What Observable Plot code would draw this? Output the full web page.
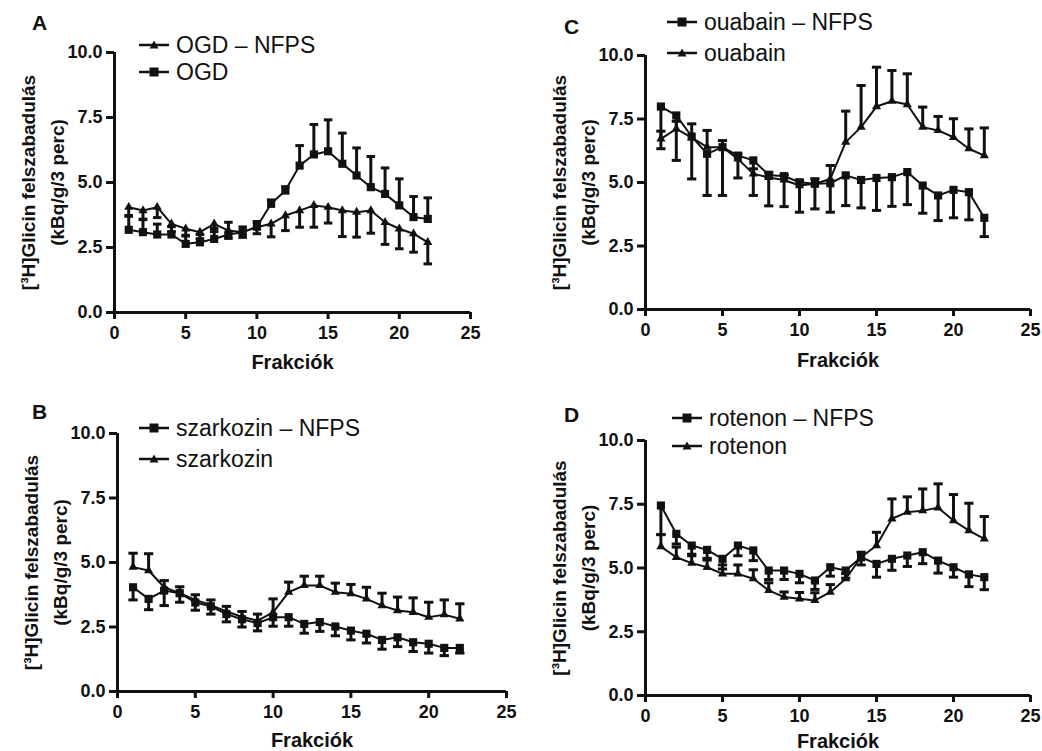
<!DOCTYPE html>
<html><head><meta charset="utf-8">
<script src="https://cdn.jsdelivr.net/npm/d3@7"></script>
<script src="https://cdn.jsdelivr.net/npm/@observablehq/plot@0.6"></script>
<style>
body{margin:0;background:#fff;}
#root{position:relative;width:1042px;height:751px;overflow:hidden;font-family:"Liberation Sans",Arial,sans-serif;color:#111;}
.panel{position:absolute;}
.letter{position:absolute;font-weight:bold;font-size:21px;line-height:1;}
.leg{position:absolute;display:flex;align-items:center;height:26px;font-size:23px;line-height:1;white-space:nowrap;}
.leg svg{margin-right:7px;}
</style></head><body><div id="root"></div>
<script>
// ---- data ----
const fractions = [1,2,3,4,5,6,7,8,9,10,11,12,13,14,15,16,17,18,19,20,21,22];
const xTicks = [0,5,10,15,20,25];
const yTicks = [0,2.5,5,7.5,10];
const xLabel = "Frakciók";
const yLabel1 = "[³H]Glicin felszabadulás";
const yLabel2 = "(kBq/g/3 perc)";

// Panel A
const ogdNfpsMean = [4.05,3.92,4.05,3.41,3.22,3.09,3.41,3.15,3.09,3.28,3.41,3.73,3.92,4.12,4.05,3.92,3.86,3.92,3.47,3.22,3.03,2.70];
const ogdNfpsSem  = [0.35,0.35,0.40,0.30,0.25,0.25,0.30,0.30,0.20,0.25,0.50,0.58,0.64,0.84,0.61,1.00,0.96,0.87,0.85,0.77,0.71,0.83];
const ogdMean     = [3.18,3.09,3.00,3.00,2.64,2.70,2.83,3.00,3.09,3.30,4.18,4.69,5.65,6.08,6.20,5.72,5.27,4.82,4.56,4.12,3.67,3.60];
const ogdSem      = [0.55,0.50,0.40,0.30,0.30,0.30,0.40,0.47,0.20,0.20,0.15,0.15,0.77,1.15,1.21,1.18,1.06,1.18,1.00,1.02,0.79,0.81];

// Panel C
const ouaNfpsMean = [7.99,7.64,6.81,6.13,6.39,6.06,5.87,5.30,5.25,5.01,4.95,4.97,5.28,5.10,5.18,5.21,5.41,4.88,4.49,4.71,4.62,3.61];
const ouaNfpsSem  = [1.66,1.77,1.67,1.64,1.90,0.88,1.38,1.22,1.20,1.18,0.99,1.14,1.19,1.10,1.28,1.15,1.28,1.09,0.99,1.10,1.09,0.74];
const ouaMean     = [6.72,7.11,6.77,6.39,6.39,5.93,5.34,5.20,5.10,4.88,4.95,5.14,6.59,7.18,7.99,8.20,8.07,7.18,7.05,6.78,6.33,6.06];
const ouaSem      = [0.30,0.30,0.54,0.66,0.26,0.20,0.20,0.20,0.20,0.20,0.20,0.53,1.22,1.64,1.55,1.21,1.21,0.79,0.55,0.73,0.78,1.09];

// Panel B
const szNfpsMean  = [4.04,3.59,3.91,3.81,3.45,3.30,3.00,2.80,2.65,2.88,2.88,2.62,2.69,2.52,2.36,2.24,2.00,2.10,1.91,1.85,1.69,1.69];
const szNfpsSem   = [0.49,0.42,0.58,0.35,0.30,0.30,0.30,0.30,0.30,0.35,0.35,0.36,0.36,0.36,0.36,0.36,0.36,0.36,0.36,0.36,0.30,0.20];
const szMean      = [4.82,4.69,4.04,3.81,3.55,3.35,3.10,2.90,2.75,3.07,3.85,4.11,4.11,3.85,3.79,3.59,3.33,3.14,3.07,2.88,2.98,2.82];
const szSem       = [0.54,0.65,0.26,0.25,0.20,0.20,0.20,0.20,0.25,0.52,0.39,0.36,0.36,0.35,0.36,0.45,0.48,0.52,0.56,0.58,0.57,0.58];

// Panel D
const rotNfpsMean = [7.45,6.34,5.88,5.71,5.36,5.88,5.69,4.90,4.90,4.77,4.51,5.03,4.90,5.42,5.16,5.36,5.49,5.62,5.29,5.03,4.75,4.64];
const rotNfpsSem  = [1.14,0.40,0.40,0.40,0.40,0.40,0.40,0.35,0.35,0.35,0.35,0.35,0.30,0.30,0.52,0.45,0.43,0.45,0.49,0.39,0.48,0.49];
const rotMean     = [5.84,5.42,5.19,5.03,4.77,4.77,4.58,4.12,3.86,3.79,3.73,4.05,4.58,5.42,5.88,6.93,7.19,7.25,7.36,6.86,6.47,6.14];
const rotSem      = [0.47,0.40,0.35,0.35,0.35,0.35,0.35,0.30,0.20,0.25,0.30,0.30,0.20,0.20,0.52,0.78,0.60,0.85,0.94,1.02,1.07,0.88];

// ---- layout ----
const panels = [
  {letter:"A", lx:32, ly:12, left:0, top:0, width:500, height:380, mt:52, mb:68, ml:114, mr:30, xdy:50,
   legend:{x:139, y:[45,72]},
   series:[
     {name:"OGD – NFPS", mean:ogdNfpsMean, sem:ogdNfpsSem, dir:-1, symbol:"triangle"},
     {name:"OGD", mean:ogdMean, sem:ogdSem, dir:1, symbol:"square"}]},
  {letter:"C", lx:564, ly:16, left:530, top:0, width:512, height:380, mt:55, mb:71, ml:115, mr:12, xdy:51,
   legend:{x:667, y:[22,53]},
   series:[
     {name:"ouabain – NFPS", mean:ouaNfpsMean, sem:ouaNfpsSem, dir:-1, symbol:"square"},
     {name:"ouabain", mean:ouaMean, sem:ouaSem, dir:1, symbol:"triangle"}]},
  {letter:"B", lx:32, ly:401, left:0, top:380, width:520, height:371, mt:53, mb:60, ml:117, mr:14, xdy:49,
   legend:{x:139, y:[428,459]},
   series:[
     {name:"szarkozin – NFPS", mean:szNfpsMean, sem:szNfpsSem, dir:-1, symbol:"square"},
     {name:"szarkozin", mean:szMean, sem:szSem, dir:1, symbol:"triangle"}]},
  {letter:"D", lx:564, ly:404, left:530, top:380, width:512, height:371, mt:60, mb:56, ml:115, mr:12, xdy:46,
   legend:{x:672, y:[418,446]},
   series:[
     {name:"rotenon – NFPS", mean:rotNfpsMean, sem:rotNfpsSem, dir:-1, symbol:"square"},
     {name:"rotenon", mean:rotMean, sem:rotSem, dir:1, symbol:"triangle"}]}
];

const root = document.getElementById("root");
const INK = "#111";

function swatch(symbol){
  const m = symbol === "square"
    ? `<rect x="10.5" y="2.5" width="9" height="9" fill="${INK}"/>`
    : `<polygon points="15,2.5 19.5,10.5 10.5,10.5" fill="${INK}"/>`;
  return `<svg width="30" height="14" viewBox="0 0 30 14"><line x1="0" y1="7" x2="30" y2="7" stroke="${INK}" stroke-width="2.5"/>${m}</svg>`;
}

for (const p of panels) {
  const marks = [];
  const rowsets = p.series.map(s => fractions.map((x, i) => ({x, y: s.mean[i], e: s.mean[i] + s.dir * s.sem[i]})));
  rowsets.forEach(rows => {
    marks.push(Plot.ruleX(rows, {x: "x", y1: "y", y2: "e", stroke: INK, strokeWidth: 3}));
    marks.push(Plot.link(rows, {x1: d => d.x - 0.3, x2: d => d.x + 0.3, y1: "e", y2: "e", stroke: INK, strokeWidth: 3}));
  });
  rowsets.forEach(rows => marks.push(Plot.line(rows, {x: "x", y: "y", stroke: INK, strokeWidth: 2})));
  rowsets.forEach((rows, k) => {
    const sym = p.series[k].symbol;
    marks.push(Plot.dot(rows, {x: "x", y: "y", symbol: sym, r: sym === "square" ? 4.6 : 3.4, fill: INK, stroke: "none"}));
  });
  marks.push(Plot.ruleX([0], {stroke: INK, strokeWidth: 3}));
  marks.push(Plot.ruleY([0], {stroke: INK, strokeWidth: 3}));
  marks.push(Plot.axisY({ticks: yTicks, tickFormat: d => d.toFixed(1), tickSize: 8, tickPadding: 4, stroke: INK, strokeWidth: 3, label: null, fontWeight: "bold", fontSize: 18}));
  marks.push(Plot.axisX({ticks: xTicks, tickFormat: d => String(d), tickSize: 7, tickPadding: 7, stroke: INK, strokeWidth: 3, label: null, fontWeight: "bold", fontSize: 18}));
  marks.push(Plot.text([xLabel], {text: d => d, frameAnchor: "bottom", lineAnchor: "middle", dy: p.xdy, fontSize: 20, fontWeight: "bold", fill: INK}));
  marks.push(Plot.text([yLabel1], {text: d => d, frameAnchor: "left", dx: -86, rotate: -90, textAnchor: "middle", lineAnchor: "middle", fontSize: 19, fontWeight: "bold", fill: INK}));
  marks.push(Plot.text([yLabel2], {text: d => d, frameAnchor: "left", dx: -57, rotate: -90, textAnchor: "middle", lineAnchor: "middle", fontSize: 19, fontWeight: "bold", fill: INK}));

  const svg = Plot.plot({
    width: p.width, height: p.height,
    marginTop: p.mt, marginBottom: p.mb, marginLeft: p.ml, marginRight: p.mr,
    x: {domain: [0, 25]},
    y: {domain: [0, 10]},
    style: {fontFamily: "'Liberation Sans', Arial, sans-serif", fontSize: "18px", color: INK, background: "transparent", overflow: "visible"},
    marks
  });
  const div = document.createElement("div");
  div.className = "panel";
  div.style.left = p.left + "px";
  div.style.top = p.top + "px";
  div.appendChild(svg);
  root.appendChild(div);

  const L = document.createElement("div");
  L.className = "letter";
  L.style.left = p.lx + "px"; L.style.top = p.ly + "px";
  L.textContent = p.letter;
  root.appendChild(L);

  p.series.forEach((s, k) => {
    const g = document.createElement("div");
    g.className = "leg";
    g.style.left = p.legend.x + "px";
    g.style.top = (p.legend.y[k] - 13) + "px";
    g.innerHTML = swatch(s.symbol) + `<span>${s.name}</span>`;
    root.appendChild(g);
  });
}
</script>
</body></html>
